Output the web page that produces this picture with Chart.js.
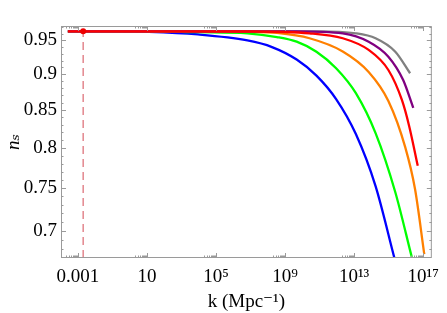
<!DOCTYPE html>
<html><head><meta charset="utf-8">
<script src="https://cdn.jsdelivr.net/npm/chart.js@4/dist/chart.umd.min.js"></script>
<style>html,body{margin:0;padding:0;background:#fff}#wrap{width:447px;height:313px}</style>
</head><body><div id="wrap"><canvas id="c" width="447" height="313"></canvas></div>
<script>
// ---- data ----
const blueK  = [2.6e-4, 0.066, 12.7, 9.1e3, 6.6e6, 1.76e8, 4.7e9, 6.6e10, 9.1e11, 1.27e13, 1.76e14, 2.14e15];
const blueNs = [0.9641, 0.9639, 0.9632, 0.9592, 0.9500, 0.9400, 0.9214, 0.8980, 0.8649, 0.8177, 0.7522, 0.6708];
const greenK  = [2.6e-4, 12.7, 9.1e3, 6.6e6, 3.4e8, 4.7e9, 6.6e10, 9.1e11, 1.27e13, 1.76e14, 2.45e15, 2.2e16];
const greenNs = [0.9641, 0.9641, 0.9627, 0.9610, 0.9553, 0.9482, 0.9331, 0.9087, 0.8731, 0.8189, 0.7449, 0.6714];
const orangeK  = [2.6e-4, 9.1e3, 6.6e6, 3.4e8, 2.6e10, 2.2e12, 7.0e13, 9.7e14, 9.1e15, 3.4e16, 1.17e17];
const orangeNs = [0.9641, 0.9641, 0.9635, 0.9615, 0.9534, 0.9334, 0.9032, 0.8622, 0.8010, 0.7487, 0.6745];
const redK  = [2.6e-4, 6.6e6, 2.6e10, 2.2e12, 7.0e13, 9.7e14, 5.9e15, 1.55e16, 4.9e16];
const redNs = [0.9641, 0.9638, 0.9610, 0.9534, 0.9357, 0.9061, 0.8636, 0.8284, 0.7772];
const purpleK  = [2.6e-4, 4.7e9, 2.2e12, 7.0e13, 9.7e14, 7.0e15, 2.7e16];
const purpleNs = [0.9641, 0.9641, 0.9610, 0.9482, 0.9257, 0.8917, 0.8526];
const grayK  = [2.6e-4, 6.6e10, 1.27e13, 1.76e14, 2.45e15, 1.76e16];
const grayNs = [0.9641, 0.9641, 0.9610, 0.9534, 0.9331, 0.9014];
const pivotK = 0.002, pivotNs = 0.9641;

const xTicks = [1e-3, 1e1, 1e5, 1e9, 1e13, 1e17];
const xTickLabels = ['0.001', '10', '10⁵', '10⁹', '10¹³', '10¹⁷'];
const yTicks = [0.7, 0.75, 0.8, 0.85, 0.9, 0.95];
const yTickLabels = ['0.7', '0.75', '0.8', '0.85', '0.9', '0.95'];
const yMinorTicks = [0.68,0.69,0.71,0.72,0.73,0.74,0.76,0.77,0.78,0.79,0.81,0.82,0.83,0.84,0.86,0.87,0.88,0.89,0.91,0.92,0.93,0.94,0.96,0.97];
const xMin = 1.04e-4, xMax = 3.2e17, yMin = 0.6704, yMax = 0.9723;

// ---- chart ----
const pts = (ks, ns) => ks.map((k, i) => ({x: k, y: ns[i]}));
const FONT = "'Liberation Serif','DejaVu Serif',serif";
const line = (label, ks, ns, color) => ({
  label, data: pts(ks, ns), borderColor: color, backgroundColor: color,
  borderWidth: 2.3, pointRadius: 0, fill: false, cubicInterpolationMode: 'monotone'
});

function labelFor(list, labels, v) {
  for (let i = 0; i < list.length; i++) if (Math.abs(Math.log(list[i] / v)) < 1e-6) return labels[i];
  return '';
}

const framePlugin = {
  id: 'frame',
  afterDatasetsDraw(chart) {
    const {ctx, chartArea: a, scales: {x, y}} = chart;
    ctx.save();
    ctx.strokeStyle = '#9a9a9a';
    ctx.lineWidth = 1;
    ctx.strokeRect(a.left + 0.5, a.top + 0.5, a.right - a.left - 1, a.bottom - a.top - 1);
    ctx.beginPath();
    const vt = (px, len) => {
      px = Math.round(px) + 0.5;
      ctx.moveTo(px, a.bottom); ctx.lineTo(px, a.bottom - len);
      ctx.moveTo(px, a.top); ctx.lineTo(px, a.top + len);
    };
    const ht = (py, len) => {
      py = Math.round(py) + 0.5;
      ctx.moveTo(a.left, py); ctx.lineTo(a.left + len, py);
      ctx.moveTo(a.right, py); ctx.lineTo(a.right - len, py);
    };
    xTicks.forEach(v => {
      vt(x.getPixelForValue(v), 5);
      for (let m = 2; m <= 9; m++) vt(x.getPixelForValue(m * v / 10), 2.5);
    });
    yTicks.forEach(v => ht(y.getPixelForValue(v), 5));
    yMinorTicks.forEach(v => ht(y.getPixelForValue(v), 2.5));
    ctx.stroke();
    ctx.restore();
  }
};

new Chart(document.getElementById('c'), {
  type: 'line',
  data: {
    datasets: [
      {label: 'pivot', data: [{x: pivotK, y: pivotNs}], showLine: false, pointRadius: 3,
       pointBackgroundColor: '#ee0000', pointBorderColor: '#ee0000', borderWidth: 0},
      line('red', redK, redNs, '#ff0000'),
      line('purple', purpleK, purpleNs, '#800080'),
      line('gray', grayK, grayNs, '#808080'),
      line('orange', orangeK, orangeNs, '#ff8000'),
      line('green', greenK, greenNs, '#00ff00'),
      line('blue', blueK, blueNs, '#0000ff'),
      {label: 'k0', data: [{x: pivotK, y: yMin}, {x: pivotK, y: yMax}], borderColor: 'rgba(215,90,100,0.85)',
       borderWidth: 1.3, borderDash: [8, 5], pointRadius: 0, fill: false}
    ]
  },
  options: {
    responsive: false, animation: false, devicePixelRatio: 1,
    layout: {padding: {top: 26, right: 10, left: 0, bottom: 0}},
    plugins: {legend: {display: false}, tooltip: {enabled: false}},
    scales: {
      x: {
        type: 'logarithmic', min: xMin, max: xMax, bounds: 'data',
        grid: {display: false, drawTicks: false}, border: {display: false},
        afterBuildTicks: s => { s.ticks = xTicks.map(v => ({value: v})); },
        afterFit: s => { s.height = 55; },
        ticks: {autoSkip: false, maxRotation: 0, padding: 8, color: '#000',
          font: {family: FONT, size: 19},
          callback: v => labelFor(xTicks, xTickLabels, v)},
        title: {display: true, text: 'k (Mpc⁻¹)', color: '#000', padding: {top: 0, bottom: 0},
          font: {family: FONT, size: 19}}
      },
      y: {
        type: 'logarithmic', min: yMin, max: yMax, bounds: 'data',
        grid: {display: false, drawTicks: false}, border: {display: false},
        afterBuildTicks: s => { s.ticks = yTicks.map(v => ({value: v})); },
        afterFit: s => { s.width = 61; },
        ticks: {autoSkip: false, padding: 4, color: '#000',
          font: {family: FONT, size: 19},
          callback: v => labelFor(yTicks, yTickLabels, v)},
        title: {display: true, text: 'nₛ', color: '#000', padding: {top: 3, bottom: 0},
          font: {family: FONT, size: 19, style: 'italic'}}
      }
    }
  },
  plugins: [framePlugin]
});
</script>
</body></html>
